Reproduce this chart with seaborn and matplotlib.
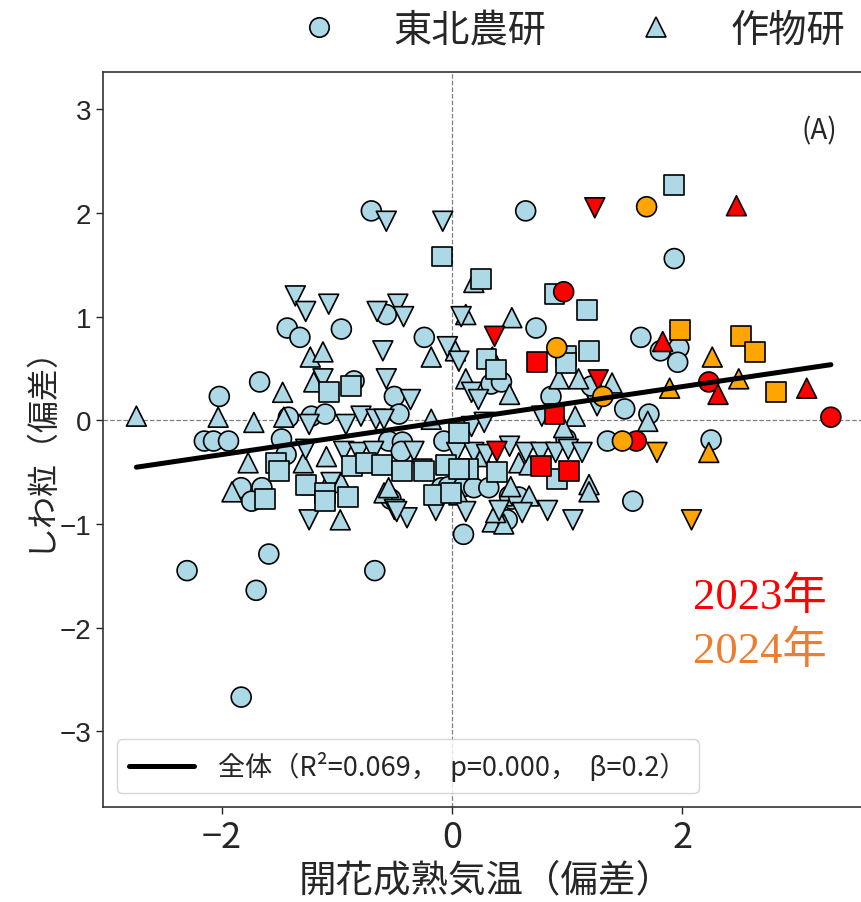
import numpy as np
import pandas as pd
import matplotlib
matplotlib.use("Agg")
import matplotlib.pyplot as plt
from matplotlib.lines import Line2D
import seaborn as sns

# (flowering-to-maturity temperature deviation, wrinkled-grain deviation)
tohoku_pts = [
    (0.64, 2.02), (1.93, 1.56), (0.73, 0.89), (1.64, 0.80), (1.81, 0.67), (1.97, 0.70),
    (1.96, 0.56), (1.50, 0.11), (1.71, 0.06), (1.21, 0.33), (0.86, 0.23), (0.34, 0.35),
    (0.43, 0.37), (1.35, -0.20), (0.99, -0.18), (2.25, -0.19), (1.57, -0.78), (0.10, -1.10),
    (-0.09, -0.65), (-0.03, -0.64), (0.10, -0.64), (0.19, -0.65), (0.32, -0.65), (0.52, -0.76),
    (0.48, -0.96), (0.50, -0.73), (0.58, -0.74), (-0.07, -0.20), (-0.70, 2.02), (-0.57, 1.02),
    (-1.43, 0.89), (-1.32, 0.80), (-0.96, 0.88), (-0.24, 0.80), (-1.67, 0.37), (-2.02, 0.23),
    (-0.85, 0.38), (-0.50, 0.23), (-0.46, 0.06), (-1.42, 0.03), (-1.22, 0.04), (-1.10, 0.06),
    (-2.15, -0.20), (-2.07, -0.20), (-1.94, -0.20), (-1.48, -0.18), (-1.44, -0.33), (-0.55, -0.20),
    (-0.43, -0.21), (-0.44, -0.30), (-1.83, -0.65), (-1.65, -0.65), (-1.74, -0.78), (-0.53, -0.76),
    (-2.30, -1.45), (-1.59, -1.29), (-0.67, -1.45), (-1.70, -1.64), (-1.83, -2.67),
]
sakumotsu_pts = [
    (0.19, 1.33), (0.12, 1.02), (0.52, 0.99), (0.93, 0.40), (1.10, 0.40), (1.39, 0.36),
    (1.07, 0.04), (0.97, -0.07), (1.70, -0.01), (1.19, -0.62), (1.19, -0.69), (0.35, 0.61),
    (0.50, 0.25), (0.26, -0.35), (0.58, -0.41), (0.67, -0.43), (0.51, -0.64), (0.67, -0.73),
    (0.06, -0.72), (0.35, -0.98), (0.45, -1.00), (0.38, -0.89), (-1.23, 0.61), (-1.12, 0.66),
    (-0.18, 0.61), (0.03, 0.67), (0.12, 0.40), (-1.47, 0.27), (-1.20, 0.37), (-2.74, 0.04),
    (-2.03, 0.03), (-1.72, -0.02), (-1.46, 0.03), (-0.18, 0.01), (-1.77, -0.41), (-1.29, -0.41),
    (-1.09, -0.35), (-1.91, -0.69), (-1.22, -0.62), (-1.10, -0.65), (-0.96, -0.60), (-0.59, -0.70),
    (-0.97, -0.96), (-0.55, -0.65),
]
site_c_pts = [
    (-0.08, 1.92), (-0.57, 1.92), (0.08, 1.00), (-1.36, 1.20), (-1.27, 1.05), (-1.07, 1.12),
    (-0.65, 1.05), (-0.47, 1.12), (-0.42, 1.00), (-0.60, 0.67), (-0.04, 0.71), (0.06, 0.57),
    (-1.12, 0.40), (-0.57, 0.40), (-0.36, 0.20), (0.17, 0.27), (0.23, 0.20), (-1.24, -0.04),
    (-0.92, -0.04), (-0.79, 0.04), (-0.66, 0.01), (-0.59, 0.01), (0.17, -0.06), (0.28, -0.02),
    (0.78, 0.04), (1.26, 0.14), (-1.27, -0.28), (-0.94, -0.30), (-0.81, -0.31), (-0.68, -0.30),
    (-0.33, -0.30), (-0.26, -0.47), (0.04, -0.31), (0.19, -0.31), (0.30, -0.33), (0.50, -0.25),
    (0.64, -0.31), (0.77, -0.31), (0.90, -0.31), (1.01, -0.28), (1.13, -0.31), (-0.50, -0.86),
    (-0.39, -0.94), (-0.14, -0.87), (0.12, -0.88), (0.41, -0.87), (0.61, -0.89), (0.83, -0.87),
    (1.05, -0.96), (-1.24, -0.96), (-1.05, -0.60), (-0.48, -0.88),
]
site_d_pts = [
    (1.93, 2.27), (-0.09, 1.58), (0.25, 1.36), (0.89, 1.22), (1.17, 1.06), (1.19, 0.67),
    (0.99, 0.62), (0.99, 0.55), (0.30, 0.59), (0.38, 0.49), (-1.07, 0.27), (-0.88, 0.33),
    (0.06, -0.12), (-1.53, -0.41), (-1.50, -0.49), (-0.87, -0.44), (-0.75, -0.41), (-0.61, -0.43),
    (-0.43, -0.49), (-0.24, -0.49), (-0.05, -0.43), (0.14, -0.47), (0.39, -0.50), (0.91, -0.57),
    (-1.62, -0.76), (-1.27, -0.62), (-1.10, -0.70), (-0.90, -0.74), (-0.16, -0.72), (-0.01, -0.70),
    (0.06, -0.47), (-1.10, -0.78),
]

# 2023 observations by site
y2023_tohoku = [(0.97, 1.24), (2.23, 0.37), (3.29, 0.03), (1.60, -0.20)]
y2023_sakumotsu = [(2.47, 2.07), (1.83, 0.76), (2.31, 0.25), (3.08, 0.31)]
y2023_site_c = [(1.24, 2.05), (0.37, 0.81), (1.27, 0.39), (0.39, -0.30)]
y2023_site_d = [(0.74, 0.56), (0.89, 0.06), (1.02, -0.49), (0.77, -0.44)]

# 2024 observations by site
y2024_tohoku = [(1.69, 2.06), (0.91, 0.70), (1.31, 0.23), (1.48, -0.20)]
y2024_sakumotsu = [(2.26, 0.61), (2.49, 0.40), (1.89, 0.31), (2.23, -0.31)]
y2024_site_c = [(1.78, -0.31), (2.08, -0.96)]
y2024_site_d = [(1.98, 0.87), (2.51, 0.81), (2.63, 0.66), (2.81, 0.27)]

# overall regression
fit_slope = 0.164
fit_intercept = -0.003
fit_label = "全体（R²=0.069，  p=0.000，  β=0.2）"

site_names = ["東北農研", "作物研", "site_c", "site_d"]
site_markers = {"東北農研": "o", "作物研": "^", "site_c": "v", "site_d": "s"}
year_colors = {"other": "#add8e6", "2023": "red", "2024": "orange"}

groups = [
    ("東北農研", "other", tohoku_pts), ("作物研", "other", sakumotsu_pts),
    ("site_c", "other", site_c_pts), ("site_d", "other", site_d_pts),
    ("東北農研", "2023", y2023_tohoku), ("作物研", "2023", y2023_sakumotsu),
    ("site_c", "2023", y2023_site_c), ("site_d", "2023", y2023_site_d),
    ("東北農研", "2024", y2024_tohoku), ("作物研", "2024", y2024_sakumotsu),
    ("site_c", "2024", y2024_site_c), ("site_d", "2024", y2024_site_d),
]
rows = []
for site, yr, pts in groups:
    for x, y in pts:
        rows.append({"temp": x, "wrinkle": y, "site": site, "year": yr})
df = pd.DataFrame(rows)

sns.set_style("ticks")
plt.rcParams["font.family"] = ["Noto Sans CJK JP", "DejaVu Sans"]
plt.rcParams["axes.unicode_minus"] = True

fig = plt.figure(figsize=(8.61, 9.03), dpi=100)
ax = fig.add_axes([0.1196, 0.1052, 0.8909, 0.8140])

ax.axhline(0, color="gray", ls="--", lw=0.9, zorder=1)
ax.axvline(0, color="gray", ls="--", lw=0.9, zorder=1)

sns.scatterplot(data=df, x="temp", y="wrinkle", hue="year", style="site",
                palette=year_colors, markers=site_markers, s=205,
                edgecolor="black", linewidth=1.2, legend=False, ax=ax, zorder=3)

xs = np.array([df["temp"].min(), df["temp"].max()])
sns.lineplot(x=xs, y=fit_intercept + fit_slope * xs, color="black", lw=3.6,
             ax=ax, label=fit_label, zorder=4)

ax.set_xlim(-3.03, 3.63)
ax.set_ylim(-3.73, 3.36)
ax.set_xticks([-2, 0, 2])
ax.set_yticks([-3, -2, -1, 0, 1, 2, 3])
ax.tick_params(axis="x", labelsize=26, length=5, width=1)
ax.tick_params(axis="y", labelsize=20, length=5, width=1)
for lbl in ax.get_yticklabels():
    lbl.set_fontfamily(["Liberation Sans", "DejaVu Sans"])
for sp in ax.spines.values():
    sp.set_color("#333333")
    sp.set_linewidth(1.2)
ax.spines["right"].set_visible(False)

ax.set_xlabel("開花成熟気温（偏差）", fontsize=27, labelpad=4)
ax.set_ylabel("しわ粒（偏差）", fontsize=23, labelpad=4)

ax.legend(loc="lower left", fontsize=19.5, handlelength=2.4, handletextpad=0.9,
          borderpad=0.45)

ax.text(3.19, 2.80, "(A)", fontsize=20, ha="center", va="center")
ax.text(2.67, -1.70, "2023年", color="red", fontsize=32, ha="center", va="center",
        family=["Liberation Serif", "Noto Sans CJK JP"])
ax.text(2.67, -2.22, "2024年", color="#ED7D31", fontsize=32, ha="center", va="center",
        family=["Liberation Serif", "Noto Sans CJK JP"])

site_handles = [
    Line2D([], [], marker=site_markers[n], ls="none", markersize=14,
           markerfacecolor=year_colors["other"], markeredgecolor="black",
           markeredgewidth=1.2)
    for n in site_names[:2]
]
fig.legend(site_handles, site_names[:2], loc="upper right",
           bbox_to_anchor=(1.022, 1.025), ncol=2, frameon=False, fontsize=27.5,
           handlelength=1.0, handletextpad=1.45, columnspacing=2.38)

fig.savefig("out.png", dpi=100)
